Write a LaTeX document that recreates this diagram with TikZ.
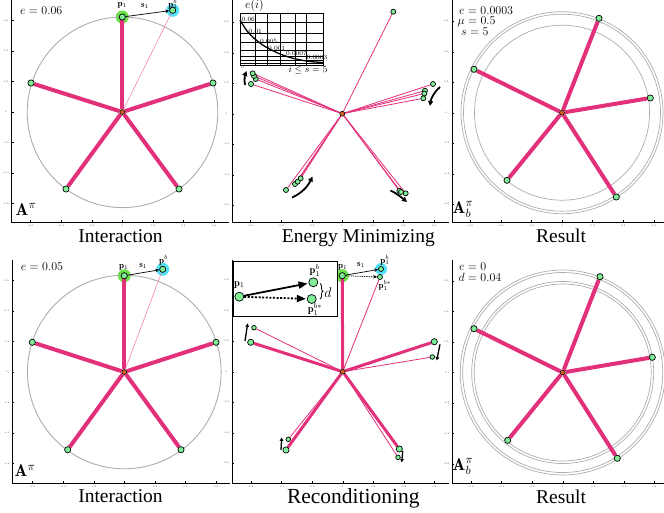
\RequirePackage{fix-cm}
\documentclass[tikz,border=0pt]{standalone}
\usepackage{fontspec}
\newfontfamily\titlefont{Liberation Serif}
\usetikzlibrary{arrows.meta,decorations.pathreplacing}
\definecolor{spk}{RGB}{227,48,122}
\definecolor{spkl}{RGB}{242,130,178}
\definecolor{ptg}{RGB}{128,238,150}
\definecolor{hgc}{RGB}{105,225,70}
\definecolor{hcc}{RGB}{85,225,245}
\definecolor{ctro}{RGB}{215,95,35}
\definecolor{cgray}{RGB}{172,172,172}
\pgfdeclarelayer{halo}
\pgfdeclarelayer{lines}
\pgfsetlayers{halo,lines,main}
\newcommand\paxes[7]{%
  \draw[axisln] (#1,#2) -- (#1,#3) -- (#4,#3);
  \foreach \k/\lab [count=\n] in {-3/-0.6,-2/-0.4,-1/-0.2,0/0,1/0.2,2/0.4,3/0.6}{%
    \draw[axisln, line width=0.4pt] ({#5+\k*30.6},#3) -- ++(0,-2);
    \node[ticklab] (#7x\n) at ({#5+\k*30.6},{#3+3.6}) {\lab};
    \draw[axisln, line width=0.4pt] (#1,{#6-\k*30.5}) -- ++(2,0);
    \node[ticklab] (#7y\n) at ({#1-5.5},{#6-\k*30.5}) {\lab};
  }%
}
\tikzset{
  axisln/.style={line width=0.8pt, black},
  ticklab/.style={font=\fontsize{2.4}{3}\selectfont, text=black!75, inner sep=0},
  gcirc/.style={draw=cgray, line width=0.9pt},
  spoke/.style={draw=spk, line width=4pt},
  spokem/.style={draw=spk, line width=3pt},
  thinl/.style={draw=spk, line width=0.8pt},
  thinp/.style={draw=spkl, line width=0.6pt},
  pt/.style={circle, draw=black, line width=0.7pt, fill=ptg, inner sep=0, minimum size=6.2pt},
  mpt/.style={pt, minimum size=5pt},
  spt/.style={pt, minimum size=4.6pt},
  bpt/.style={pt, minimum size=9pt},
  ctr/.style={circle, draw=black, line width=0.6pt, fill=ctro, inner sep=0, minimum size=5pt},
  hgreen/.style={circle, fill=hgc, inner sep=0, minimum size=13pt},
  hcyan/.style={circle, fill=hcc, inner sep=0, minimum size=13pt},
  lbl/.style={font=\fontsize{9}{10}\selectfont, inner sep=0},
  val/.style={font=\fontsize{12}{13}\selectfont, inner sep=0, anchor=base west},
  ttl/.style={font=\titlefont\fontsize{19.5}{22}\selectfont, anchor=base, inner sep=0},
  bigA/.style={font=\fontsize{17}{18}\selectfont, anchor=base west, inner sep=0},
  sarr/.style={-{Stealth[length=4pt,width=3.5pt]}, line width=0.7pt, black},
  mover/.style={-{Triangle[length=5pt,width=5pt]}, line width=1.8pt, black},
  smover/.style={-{Triangle[length=3.5pt,width=3.5pt]}, line width=1.3pt, black},
  bigarr/.style={-{Triangle[length=9pt,width=7pt]}, line width=1.8pt, black},
  grid1/.style={line width=0.6pt, black},
  insl/.style={font=\fontsize{6.5}{7}\selectfont, inner sep=0, anchor=west},
}
\begin{document}
\begin{tikzpicture}[x=1pt,y=-1pt]
\useasboundingbox (0,0) rectangle (664,512);

% ================= Panel 1 : Interaction (top) =================
\paxes{11.5}{0}{222}{229}{122.3}{112}{pa}
\node[ctr] (c1) at (122.3,112) {};
\node[pt] (a1) at (122.3,17) {};
\node[pt] (a2) at (213,83) {};
\node[pt] (a3) at (31,83) {};
\node[pt] (a4) at (66,189) {};
\node[pt] (a5) at (179,189) {};
\node[pt] (ab) at (172.7,10.3) {};
\begin{pgfonlayer}{halo}
  \node[hgreen] (ha1) at (a1) {};
  \node[hcyan] (hab) at (ab) {};
  \draw[gcirc] (122.5,112.3) circle[radius=95.3];
\end{pgfonlayer}
\begin{pgfonlayer}{lines}
  \foreach \t in {a1,a2,a3,a4,a5} \draw[spoke] (c1) -- (\t);
  \draw[thinp] (c1) -- (ab);
\end{pgfonlayer}
\draw[sarr] (a1) -- (ab);
\node[lbl] (la1) at (122.3,5.5) {$\mathbf{p}_1$};
\node[lbl] (ls1) at (145,6) {$\mathbf{s}_1$};
\node[lbl] (lab) at (173,4) {$\mathbf{p}_1^b$};
\node[val] (v1) at (20,14) {$e=0.06$};
\node[bigA] (A1) at (15.5,215) {$\mathbf{A}^{\pi}$};
\node[ttl] (t1) at (120.5,242) {Interaction};

% ================= Panel 2 : Energy Minimizing =================
\paxes{232}{0}{222}{449}{342.3}{113.7}{pb}
\node[ctr] (c2) at (342.3,113.7) {};
\node[mpt] (et) at (393.3,11.7) {};
\node[mpt] (eu1) at (251,84) {};
\node[mpt] (eu2) at (255.7,79) {};
\node[mpt] (eu3) at (254,76) {};
\node[mpt] (eu4) at (252.7,73.3) {};
\node[mpt] (er1) at (433,84) {};
\node[mpt] (er2) at (425,90.7) {};
\node[mpt] (er3) at (424.3,93.5) {};
\node[mpt] (er4) at (423.3,98.3) {};
\node[mpt] (ell1) at (286,190) {};
\node[mpt] (ell2) at (295,184) {};
\node[mpt] (ell3) at (297.7,181.7) {};
\node[mpt] (ell4) at (300.7,178.3) {};
\node[mpt] (elr1) at (399.3,190.7) {};
\node[mpt] (elr2) at (401,192) {};
\node[mpt] (elr3) at (405.7,193.3) {};
\begin{pgfonlayer}{lines}
  \foreach \t in {et,eu1,eu2,eu3,eu4,er1,er2,er3,er4,ell1,ell2,ell3,ell4,elr1,elr2,elr3}
    \draw[thinl] (c2) -- (\t);
\end{pgfonlayer}
\coordinate (mu1) at (245,85);
\coordinate (mu2) at (246.5,71);
\draw[mover] (mu1) .. controls (244,80) and (245,75) .. (mu2);
\coordinate (mr1) at (440,87);
\coordinate (mr2) at (430,106);
\draw[mover] (mr1) .. controls (435,91) and (431,98) .. (mr2);
\coordinate (ml1) at (292,197.5);
\coordinate (ml2) at (312.5,176.5);
\draw[mover] (ml1) .. controls (300,194) and (307,188) .. (ml2);
\coordinate (mx1) at (390.5,190.5);
\coordinate (mx2) at (407,202);
\draw[mover] (mx1) .. controls (396,193) and (401,197) .. (mx2);
% inset chart
\fill[white] (240,13.3) rectangle (323.3,65);
\foreach \gx in {255,267.3,280,295} \draw[grid1] (\gx,13.3) -- (\gx,65);
\draw[grid1, line width=1.1pt] (306.7,13.3) -- (306.7,65);
\foreach \gy in {22.7,33.3,42.7,50,56.7,60.5,63} \draw[grid1] (240,\gy) -- (323.3,\gy);
\draw[grid1, line width=0.8pt] (240,13.3) rectangle (323.3,65);
\draw[line width=1.3pt] plot[smooth] coordinates {(240,20) (247,31) (255,39) (265,46.5) (280,54) (295,58.8) (310,61.5) (323,62.5)};
\node[insl] (i1) at (241.5,19.5) {0.06};
\node[insl] (i2) at (248.5,31.5) {0.01};
\node[insl] (i3) at (260,41.5) {0.005};
\node[insl] (i4) at (268,48.5) {0.001};
\node[insl] (i5) at (286,53.5) {0.0007};
\node[insl] (i6) at (306.5,57.5) {0.0003};
\node[ticklab, font=\fontsize{4}{4}\selectfont] (i0) at (242.5,67.5) {0};
\node[font=\fontsize{12}{13}\selectfont, inner sep=0] (ei) at (254.5,5.5) {$e(i)$};
\node[font=\fontsize{9.5}{10}\selectfont, inner sep=0] (is) at (308,70.5) {$i\leq s=5$};
\node[ttl] (t2) at (358.3,242) {Energy Minimizing};

% ================= Panel 3 : Result (top) =================
\paxes{452}{0}{222}{664}{562}{112.7}{pc}
\begin{pgfonlayer}{halo}
  \draw[gcirc, line width=0.7pt] (562,112.7) circle[radius=101];
  \draw[gcirc, line width=0.7pt] (562,112.7) circle[radius=98.5];
  \draw[gcirc, line width=0.7pt] (562,112.7) circle[radius=87.5];
\end{pgfonlayer}
\node[ctr] (c3) at (562,112.7) {};
\node[pt] (q1) at (599,18.3) {};
\node[pt] (q2) at (474,69.3) {};
\node[pt] (q3) at (650.3,98) {};
\node[pt] (q4) at (507,180.3) {};
\node[pt] (q5) at (616.3,197) {};
\begin{pgfonlayer}{lines}
  \foreach \t in {q1,q2,q3,q4,q5} \draw[spoke] (c3) -- (\t);
\end{pgfonlayer}
\node[val] (v3a) at (459,14) {$e=0.0003$};
\node[val] (v3b) at (457.5,24.5) {$\mu=0.5$};
\node[val] (v3c) at (461,35) {$s=5$};
\node[bigA] (A3) at (452.5,213) {$\mathbf{A}_b^{\pi}$};
\node[ttl] (t3) at (561,242) {Result};

% ================= Panel 4 : Interaction (bottom) =================
\paxes{12.3}{260}{483}{230}{124.3}{372}{pd}
\node[ctr] (c4) at (124.3,372) {};
\node[pt] (d1) at (124.3,275.7) {};
\node[pt] (d2) at (216,342.3) {};
\node[pt] (d3) at (32.3,342.3) {};
\node[pt] (d4) at (67.7,449.7) {};
\node[pt] (d5) at (181,449.7) {};
\node[pt] (db) at (162.7,269.3) {};
\begin{pgfonlayer}{halo}
  \node[hgreen] (hd1) at (d1) {};
  \node[hcyan] (hdb) at (db) {};
  \draw[gcirc] (124.3,372) circle[radius=96.8];
\end{pgfonlayer}
\begin{pgfonlayer}{lines}
  \foreach \t in {d1,d2,d3,d4,d5} \draw[spoke] (c4) -- (\t);
  \draw[thinp] (c4) -- (db);
\end{pgfonlayer}
\draw[sarr] (d1) -- (db);
\node[lbl] (ld1) at (123.8,267.5) {$\mathbf{p}_1$};
\node[lbl] (ls4) at (143.3,265.5) {$\mathbf{s}_1$};
\node[lbl] (ldb) at (163.5,260) {$\mathbf{p}^b$};
\node[val] (v4) at (20.7,270) {$e=0.05$};
\node[bigA] (A4) at (14.5,476.5) {$\mathbf{A}^{\pi}$};
\node[ttl] (t4) at (120.5,502.5) {Interaction};

% ================= Panel 5 : Reconditioning =================
\paxes{232}{260}{483}{449}{342.7}{371.7}{pe}
\node[ctr] (c5) at (342.7,371.7) {};
\node[pt] (r1) at (342.3,275.7) {};
\node[mpt] (rb) at (381,269) {};
\node[mpt] (rbs) at (380,277) {};
\node[pt] (rL) at (250.7,342.3) {};
\node[spt] (rl) at (254,327.7) {};
\node[pt] (rR) at (434.3,341.7) {};
\node[spt] (rr) at (432.3,357) {};
\node[pt] (rLL) at (286,450) {};
\node[spt] (rll) at (288.3,439.3) {};
\node[pt] (rLR) at (399.3,449) {};
\node[spt] (rlr) at (398,457.3) {};
\begin{pgfonlayer}{halo}
  \node[hgreen] (hr1) at (r1) {};
  \node[hcyan, minimum size=12pt] (hrb) at (rb) {};
\end{pgfonlayer}
\begin{pgfonlayer}{lines}
  \foreach \t in {r1,rL,rR,rLL,rLR} \draw[spokem] (c5) -- (\t);
  \foreach \t in {rbs,rl,rr,rll,rlr} \draw[thinl] (c5) -- (\t);
\end{pgfonlayer}
\draw[sarr] (r1) -- (rb);
\draw[sarr, dash pattern=on 1pt off 0.8pt] (r1) -- (rbs);
\node[lbl] (lr1) at (342.8,267.5) {$\mathbf{p}_1$};
\node[lbl] (lrs) at (361,264.5) {$\mathbf{s}_1$};
\node[lbl] (lrb) at (385,260) {$\mathbf{p}_1^b$};
\node[lbl] (lrbs) at (385,285.5) {$\mathbf{p}_1^{b*}$};
\coordinate (n1a) at (245,341);
\coordinate (n1b) at (247.7,323.3);
\draw[smover] (n1a) -- (n1b);
\coordinate (n2a) at (440,344.3);
\coordinate (n2b) at (436.7,360.5);
\draw[smover] (n2a) -- (n2b);
\coordinate (n3a) at (281,450);
\coordinate (n3b) at (281.7,437.5);
\draw[smover] (n3a) -- (n3b);
\coordinate (n4a) at (402.7,451);
\coordinate (n4b) at (401.7,462.5);
\draw[smover] (n4a) -- (n4b);
% inset
\draw[line width=0.8pt, fill=white] (233.3,261) rectangle (337,316.7);
\node[bpt] (ip1) at (239.3,296.7) {};
\node[bpt] (ipb) at (313.3,282.3) {};
\node[bpt] (ipbs) at (311.7,299) {};
\draw[bigarr, shorten >=1pt] (ip1) -- (ipb);
\draw[bigarr, shorten >=1pt, dash pattern=on 2pt off 1.6pt] (ip1) -- (ipbs);
\node[lbl, font=\fontsize{10.5}{11}\selectfont] (lip1) at (239.3,285) {$\mathbf{p}_1$};
\node[lbl, font=\fontsize{10.5}{11}\selectfont] (lipb) at (315,270.5) {$\mathbf{p}_1^b$};
\node[lbl, font=\fontsize{10.5}{11}\selectfont] (lipbs) at (315,309.5) {$\mathbf{p}_1^{b*}$};
\coordinate (br1) at (320,283.5);
\coordinate (br2) at (320,299);
\draw[decorate, decoration={brace, amplitude=3pt}, line width=0.8pt] (br1) -- (br2);
\node[font=\fontsize{14}{15}\selectfont, inner sep=0] (dd) at (328,292.5) {$d$};
\node[ttl, font=\titlefont\fontsize{21.5}{24}\selectfont] (t5) at (353.3,503.5) {Reconditioning};

% ================= Panel 6 : Result (bottom) =================
\paxes{452}{260}{483}{664}{562.7}{372.5}{pf}
\begin{pgfonlayer}{halo}
  \foreach \rr in {102.5,100,91,88.5}
    \draw[gcirc, line width=0.7pt] (562.7,372.5) circle[radius=\rr];
\end{pgfonlayer}
\node[ctr] (c6) at (562.7,372.5) {};
\node[pt] (w1) at (600,276.7) {};
\node[pt] (w2) at (474,328.7) {};
\node[pt] (w3) at (652.3,357.3) {};
\node[pt] (w4) at (507.7,440.3) {};
\node[pt] (w5) at (617.3,458.3) {};
\begin{pgfonlayer}{lines}
  \foreach \t in {w1,w2,w3,w4,w5} \draw[spoke] (c6) -- (\t);
\end{pgfonlayer}
\node[val] (v6a) at (459,270) {$e=0$};
\node[val] (v6b) at (458.3,281.5) {$d=0.04$};
\node[bigA] (A6) at (452.5,470) {$\mathbf{A}_b^{\pi}$};
\node[ttl] (t6) at (561,503.5) {Result};
\end{tikzpicture}
\end{document}
